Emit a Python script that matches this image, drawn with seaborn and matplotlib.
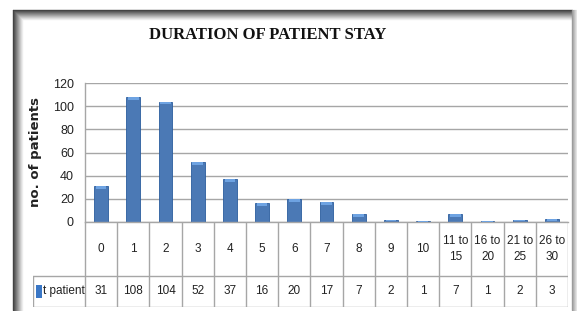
import matplotlib
matplotlib.use('Agg')
import matplotlib.pyplot as plt
import matplotlib.patches as mpatches
import matplotlib.lines as mlines
import pandas as pd
import seaborn as sns

# data
days = ['0', '1', '2', '3', '4', '5', '6', '7', '8', '9', '10',
        '11 to\n15', '16 to\n20', '21 to\n25', '26 to\n30']
patients = [31, 108, 104, 52, 37, 16, 20, 17, 7, 2, 1, 7, 1, 2, 3]
series_name = 't patient'
y_ticks = [0, 20, 40, 60, 80, 100, 120]

W, H = 577, 311
BLUE = '#3a77c6'
GRID = '#a6a6a6'
TXT = '#222222'


def box(x0, y0, x1, y1):
    # pixel box -> figure fraction
    return [x0 / W, 1 - y1 / H, (x1 - x0) / W, (y1 - y0) / H]


sns.set_theme(style='white')
plt.rcParams['font.family'] = ['Liberation Sans', 'DejaVu Sans']

fig = plt.figure(figsize=(W / 100, H / 100), dpi=100)

# frame with shadow
for i in range(10):
    g = 0.25 + i * 0.075
    fig.add_artist(mlines.Line2D([(13 + i) / W] * 2, [1 - (10 + i) / H, 1 - 310 / H],
                                 color=(g, g, g), lw=1))
    fig.add_artist(mlines.Line2D([(13 + i) / W, 572 / W], [1 - (10 + i) / H] * 2,
                                 color=(g, g, g), lw=1))
for i in range(6):
    g = 0.6 + i * 0.07
    fig.add_artist(mlines.Line2D([(572 + i) / W] * 2, [1 - 10 / H, 1 - 310 / H],
                                 color=(g, g, g), lw=1))

df = pd.DataFrame({'day': days, 'patients': patients})

ax = fig.add_axes(box(85, 83, 568, 222))
sns.barplot(data=df, x='day', y='patients', color=BLUE, width=0.43,
            edgecolor='#2b5d9e', linewidth=0.6, ax=ax)
for p in ax.patches:
    cap = min(2.5, p.get_height() * 0.6)
    ax.add_patch(mpatches.Rectangle((p.get_x() + p.get_width() * 0.12, p.get_height() - cap),
                                    p.get_width() * 0.76, cap,
                                    color='#6ea3e2', lw=0, zorder=3))
ax.set_xlim(-0.5, len(days) - 0.5)
ax.set_ylim(0, 120)
ax.set_yticks(y_ticks)
ax.set_xticks([])
ax.set_xlabel('')
ax.set_ylabel('')
ax.yaxis.grid(True, color=GRID, lw=1)
ax.set_axisbelow(True)
ax.tick_params(axis='y', labelsize=9, pad=8, length=0, labelcolor=TXT)
for s in ['top', 'right']:
    ax.spines[s].set_visible(False)
for s in ['left', 'bottom']:
    ax.spines[s].set_color(GRID)
    ax.spines[s].set_linewidth(1)

# data table below the axis
n = len(days)
lab_w = 52 / 32.2
tax = fig.add_axes(box(33, 222, 568, 307))
tax.set_xlim(-0.5 - lab_w, n - 0.5)
tax.set_ylim(0, 1)
tax.axis('off')
row = 0.365
for k in range(n + 1):
    tax.plot([k - 0.5] * 2, [0, 1], color=GRID, lw=1)
tax.plot([-0.5 - lab_w] * 2, [0, row], color=GRID, lw=1)
tax.plot([-0.5 - lab_w, n - 0.5], [row, row], color=GRID, lw=1)
tax.plot([-0.5 - lab_w, n - 0.5], [0, 0], color=GRID, lw=1)
for i, (d, v) in enumerate(zip(days, patients)):
    tax.text(i, (1 + row) / 2, d, ha='center', va='center', fontsize=8.5,
             linespacing=1.5, color=TXT)
    tax.text(i, row / 2, str(v), ha='center', va='center', fontsize=8.5, color=TXT)
tax.add_patch(mpatches.Rectangle((-0.5 - lab_w + 0.1, row * 0.28), 0.17, row * 0.44,
                                 color=BLUE, lw=0))
tax.text(-0.5 - lab_w + 0.3, row / 2, series_name, ha='left', va='center',
         fontsize=8.5, color=TXT)

fig.text(36 / W, 1 - 152 / H, 'no. of patients', rotation=90, ha='center', va='center',
         fontsize=9.5, fontweight='heavy', family='DejaVu Sans', color=TXT)
fig.text(268 / W, 1 - 35 / H, 'DURATION OF PATIENT STAY', ha='center', va='center',
         fontsize=12, fontweight='bold', family='Liberation Serif', color='#111111')

fig.savefig('out.png', dpi=100)
